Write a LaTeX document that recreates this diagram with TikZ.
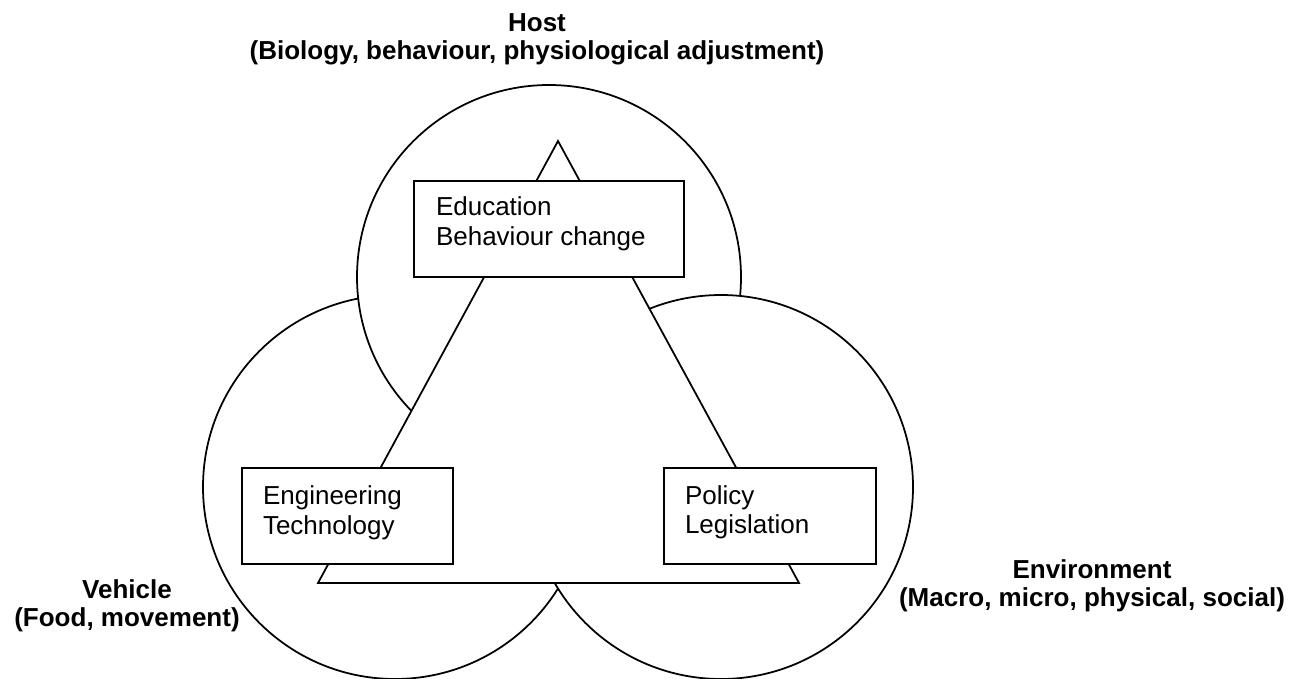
\documentclass[tikz,border=0pt]{standalone}
\usepackage{fontspec}
\setmainfont{Liberation Sans}
\usetikzlibrary{positioning}

\tikzset{
    box/.style={draw, fill=white, minimum height=1.92cm, inner sep=0pt},
    boxtext/.style={inner sep=0pt, align=left, font=\fontsize{14.8}{16.6}\selectfont},
    factor/.style={align=center, font=\bfseries\fontsize{14.8}{16.2}\selectfont},
}

\begin{document}
\begin{tikzpicture}[line width=1pt]
    \useasboundingbox (0,0) rectangle (26.16,13.56);
    %% Circles (vehicle, host, environment)
    \draw[fill=white] (7.90,3.82) circle (3.84);
    \draw[fill=white] (10.98,8.02) circle (3.84);
    \draw[fill=white] (14.42,3.82) circle (3.84);
    %% Triangle
    \draw[fill=white] (6.36,1.90) -- (11.16,10.74) -- (15.98,1.90) -- cycle;
    %% Boxes
    \node[box, minimum width=5.40cm] (edu) at (10.98,8.98) {};
    \node[box, minimum width=4.22cm] (eng) at (6.95,3.24) {};
    \node[box, minimum width=4.24cm] (pol) at (15.40,3.24) {};
    \node[boxtext, below right=0.32cm and 0.44cm of edu.north west] (edutext) {Education\\Behaviour change};
    \node[boxtext, below right=0.36cm and 0.42cm of eng.north west] (engtext) {Engineering\\Technology};
    \node[boxtext, below right=0.35cm and 0.42cm of pol.north west] (poltext) {Policy\\Legislation};
    %% Labels
    \node[factor] (host) at (10.74,12.77) {Host\\(Biology, behaviour, physiological adjustment)};
    \node[factor] (vehicle) at (2.54,1.44) {Vehicle\\(Food, movement)};
    \node[factor] (env) at (21.84,1.84) {Environment\\(Macro, micro, physical, social)};
\end{tikzpicture}
\end{document}
